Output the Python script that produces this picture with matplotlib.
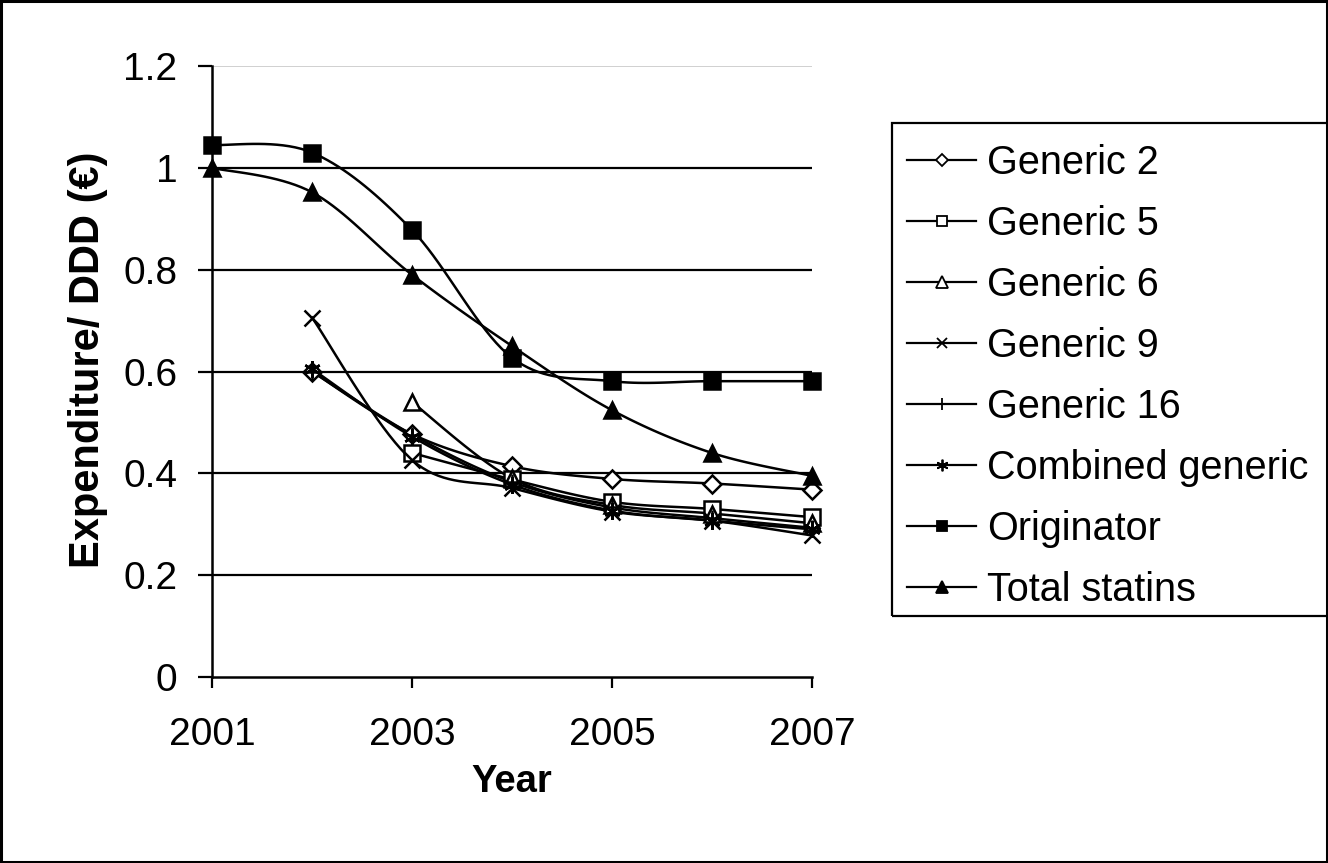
import numpy as np
import matplotlib
matplotlib.use("Agg")
import matplotlib.pyplot as plt
from matplotlib.lines import Line2D
from matplotlib.patches import Rectangle

plt.rcParams['font.family'] = ['Liberation Sans', 'DejaVu Sans']

# data (NaN = no value that year)
years = [2001, 2002, 2003, 2004, 2005, 2006, 2007]
generic_2 = [np.nan, 0.600, 0.477, 0.414, 0.389, 0.380, 0.368]
generic_5 = [np.nan, np.nan, 0.440, 0.388, 0.344, 0.330, 0.314]
generic_6 = [np.nan, np.nan, 0.540, 0.390, 0.338, 0.321, 0.302]
generic_9 = [np.nan, 0.706, 0.426, 0.371, 0.325, 0.307, 0.278]
generic_16 = [np.nan, 0.600, 0.476, 0.383, 0.333, 0.312, 0.293]
combined = [np.nan, 0.605, 0.472, 0.378, 0.327, 0.307, 0.290]
originator = [1.045, 1.030, 0.878, 0.627, 0.581, 0.581, 0.581]
total_statins = [1.000, 0.952, 0.790, 0.650, 0.524, 0.440, 0.395]

labels = ["Generic 2", "Generic 5", "Generic 6", "Generic 9", "Generic 16",
          "Combined generic", "Originator", "Total statins"]
series = [generic_2, generic_5, generic_6, generic_9, generic_16,
          combined, originator, total_statins]

# marker style per series: (marker, filled)
asterisk = (6, 2, 0)
styles = [("D", False), ("s", False), ("^", False), ("x", True),
          ("+", True), (asterisk, True), ("s", True), ("^", True)]
sizes = [9, 11, 12, 11, 12, 12, 11, 12]

FS = 28


def smooth(x, y, n=20):
    # Excel-style smoothed line (Catmull-Rom, end points repeated)
    x = np.asarray(x, float)
    y = np.asarray(y, float)
    px = np.concatenate([[x[0]], x, [x[-1]]])
    py = np.concatenate([[y[0]], y, [y[-1]]])
    xs, ys = [], []
    t = np.linspace(0, 1, n)
    for i in range(1, len(px) - 2):
        p0, p1, p2, p3 = px[i - 1], px[i], px[i + 1], px[i + 2]
        q0, q1, q2, q3 = py[i - 1], py[i], py[i + 1], py[i + 2]
        xs.append(0.5 * (2 * p1 + (-p0 + p2) * t + (2 * p0 - 5 * p1 + 4 * p2 - p3) * t ** 2
                         + (-p0 + 3 * p1 - 3 * p2 + p3) * t ** 3))
        ys.append(0.5 * (2 * q1 + (-q0 + q2) * t + (2 * q0 - 5 * q1 + 4 * q2 - q3) * t ** 2
                         + (-q0 + 3 * q1 - 3 * q2 + q3) * t ** 3))
    return np.concatenate(xs), np.concatenate(ys)


fig = plt.figure(figsize=(13.28, 8.63), dpi=100)
ax = fig.add_axes([212 / 1328, 1 - 677 / 863, 600 / 1328, 611 / 863])

for yv in [0.2, 0.4, 0.6, 0.8, 1.0]:
    ax.axhline(yv, color="black", lw=1.6, zorder=1)
ax.axhline(1.2, color="#c8c8c8", lw=1.2, zorder=1)

handles = []
for lab, vals, (mk, filled), ms in zip(labels, series, styles, sizes):
    vals = np.array(vals, float)
    ok = ~np.isnan(vals)
    xx = np.array(years)[ok]
    yy = vals[ok]
    sx, sy = smooth(xx, yy)
    ax.plot(sx, sy, color="black", lw=1.8, zorder=2, clip_on=False)
    fc = "black" if filled else "white"
    ax.plot(xx, yy, ls="none", marker=mk, ms=ms, mfc=fc, mec="black",
            mew=1.8, zorder=3, clip_on=False)
    handles.append(Line2D([], [], color="black", lw=1.6, marker=mk,
                          ms=ms * 0.7, mfc=fc, mec="black", mew=1.3))

ax.set_xlim(2001, 2007)
ax.set_ylim(0, 1.2)
ax.set_xticks([2001, 2003, 2005, 2007])
ax.set_yticks([0, 0.2, 0.4, 0.6, 0.8, 1.0, 1.2])
ax.set_yticklabels(["0", "0.2", "0.4", "0.6", "0.8", "1", "1.2"])
ax.tick_params(axis="both", labelsize=FS, direction="out", width=1.6,
               color="black")
ax.tick_params(axis="y", length=10, pad=15)
ax.tick_params(axis="x", length=8, pad=21)
for s in ["top", "right"]:
    ax.spines[s].set_visible(False)
for s in ["left", "bottom"]:
    ax.spines[s].set_linewidth(1.8)

ax.set_xlabel("Year", fontsize=27.5, fontweight="bold", labelpad=8)
ax.set_ylabel("Expenditure/ DDD (\u20ac)", fontsize=30, fontweight="bold")
ax.yaxis.set_label_coords(-0.173, 0.52)

# legend with a box that runs off the right edge
fig.patches.append(Rectangle((892 / 1328, 1 - 616 / 863), 0.5, (616 - 123) / 863,
                             transform=fig.transFigure, fill=False,
                             ec="black", lw=1.6))
fig.legend(handles, labels, loc="upper left",
           bbox_to_anchor=(907 / 1328, 1 - 144 / 863), frameon=False,
           fontsize=28.5, handlelength=1.75, handletextpad=0.28,
           labelspacing=0.58, borderaxespad=0, borderpad=0)

fig.patches.append(Rectangle((0.001, 0.001), 0.998, 0.998,
                             transform=fig.transFigure, fill=False,
                             ec="black", lw=2.2))

fig.savefig("out.png", dpi=100)
